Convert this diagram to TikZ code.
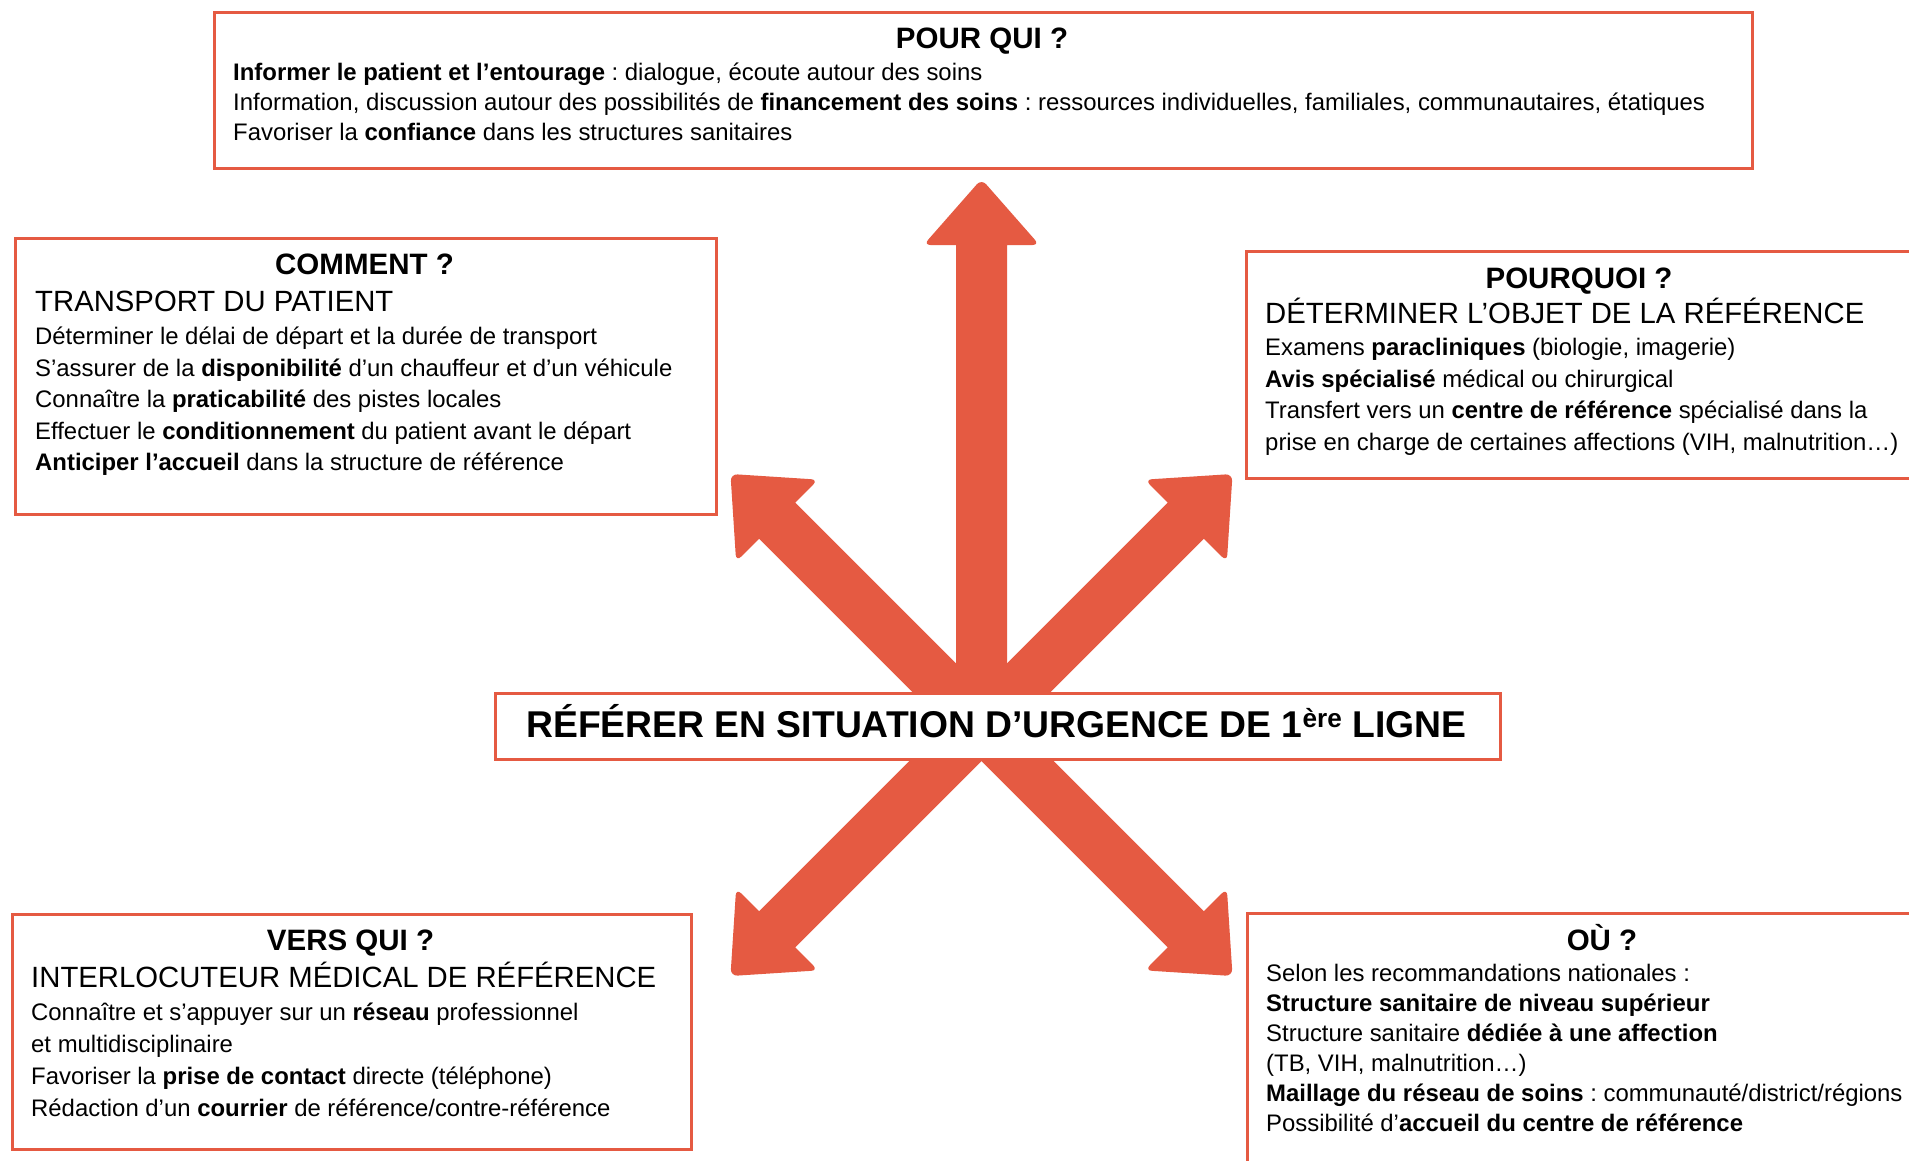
\documentclass[tikz,border=0pt]{standalone}
\usepackage{fontspec}
\setmainfont{Liberation Sans}
\definecolor{ored}{RGB}{229,90,66}
\frenchspacing
\begin{document}
\begin{tikzpicture}[x=1pt,y=-1pt,
  box/.style={draw=ored, line width=2.5pt, fill=white, inner sep=0pt, anchor=north west},
  head/.style={anchor=base, font=\fontsize{29.5}{34}\selectfont\bfseries, inner sep=0pt},
  subt/.style={anchor=base west, font=\fontsize{29.3}{34}\selectfont, inner sep=0pt},
  body/.style={anchor=base west, font=\fontsize{23.9}{28}\selectfont, inner sep=0pt},
  ctrtxt/.style={anchor=base, font=\fontsize{37.3}{40}\selectfont\bfseries, inner sep=0pt}]
\useasboundingbox (0,0) rectangle (1909,1160);
\fill[white] (0,0) rectangle (1909,1160);

% block arrows from the centre
\coordinate (c) at (981.5,725);
\foreach \ang/\len in {90/546, 135/355, 45/355, 225/355, 315/355} {
  \begin{scope}[shift={(c)}, rotate=\ang]
    \fill[ored] (0,-25.5) -- (\len-66,-25.5) [rounded corners=7pt] -- (\len-66,-58) -- (\len,0) -- (\len-66,58) [sharp corners] -- (\len-66,25.5) -- (0,25.5) -- cycle;
  \end{scope}
}

% boxes
\node[box, minimum width=1538pt, minimum height=156pt] (pq) at (213,11) {};
\node[box, minimum width=701pt, minimum height=276pt] (cm) at (14,237) {};
\node[box, minimum width=668pt, minimum height=227pt] (pw) at (1245,250) {};
\node[box, minimum width=1005pt, minimum height=66pt] (ctr) at (494,692) {};
\node[box, minimum width=679pt, minimum height=235pt] (vq) at (11,913) {};
\node[box, minimum width=712pt, minimum height=290pt] (ou) at (1246,912) {};

% centre title
\node[ctrtxt] (ctrT) at (996.5,737) {RÉFÉRER EN SITUATION D’URGENCE DE 1\textsuperscript{ère} LIGNE};

% POUR QUI
\node[head] (pqH) at (982,48) {POUR QUI ?};
\node[body] (pq1) at (233,80) {\textbf{Informer le patient et l’entourage} : dialogue, écoute autour des soins};
\node[body] (pq2) at (233,110) {Information, discussion autour des possibilités de \textbf{financement des soins} : ressources individuelles, familiales, communautaires, étatiques};
\node[body] (pq3) at (233,140) {Favoriser la \textbf{confiance} dans les structures sanitaires};

% COMMENT
\node[head] (cmH) at (364.5,274) {COMMENT ?};
\node[subt] (cmS) at (35,311) {TRANSPORT DU PATIENT};
\node[body] (cm1) at (35,344.5) {Déterminer le délai de départ et la durée de transport};
\node[body] (cm2) at (35,376) {S’assurer de la \textbf{disponibilité} d’un chauffeur et d’un véhicule};
\node[body] (cm3) at (35,407.5) {Connaître la \textbf{praticabilité} des pistes locales};
\node[body] (cm4) at (35,439) {Effectuer le \textbf{conditionnement} du patient avant le départ};
\node[body] (cm5) at (35,470.5) {\textbf{Anticiper l’accueil} dans la structure de référence};

% POURQUOI
\node[head] (pwH) at (1579,288) {POURQUOI ?};
\node[subt] (pwS) at (1265,323) {DÉTERMINER L’OBJET DE LA RÉFÉRENCE};
\node[body] (pw1) at (1265,355.5) {Examens \textbf{paracliniques} (biologie, imagerie)};
\node[body] (pw2) at (1265,387) {\textbf{Avis spécialisé} médical ou chirurgical};
\node[body] (pw3) at (1265,418.5) {Transfert vers un \textbf{centre de référence} spécialisé dans la};
\node[body] (pw4) at (1265,450) {prise en charge de certaines affections (VIH, malnutrition…)};

% VERS QUI
\node[head] (vqH) at (350.5,950) {VERS QUI ?};
\node[subt] (vqS) at (31,987) {INTERLOCUTEUR MÉDICAL DE RÉFÉRENCE};
\node[body] (vq1) at (31,1020) {Connaître et s’appuyer sur un \textbf{réseau} professionnel};
\node[body] (vq2) at (31,1052) {et multidisciplinaire};
\node[body] (vq3) at (31,1084) {Favoriser la \textbf{prise de contact} directe (téléphone)};
\node[body] (vq4) at (31,1116) {Rédaction d’un \textbf{courrier} de référence/contre-référence};

% OU
\node[head] (ouH) at (1602,950) {OÙ ?};
\node[body] (ou1) at (1266,981) {Selon les recommandations nationales :};
\node[body] (ou2) at (1266,1011) {\textbf{Structure sanitaire de niveau supérieur}};
\node[body] (ou3) at (1266,1041) {Structure sanitaire \textbf{dédiée à une affection}};
\node[body] (ou4) at (1266,1071) {(TB, VIH, malnutrition…)};
\node[body] (ou5) at (1266,1101) {\textbf{Maillage du réseau de soins} : communauté/district/régions};
\node[body] (ou6) at (1266,1131) {Possibilité d’\textbf{accueil du centre de référence}};
\end{tikzpicture}
\end{document}
